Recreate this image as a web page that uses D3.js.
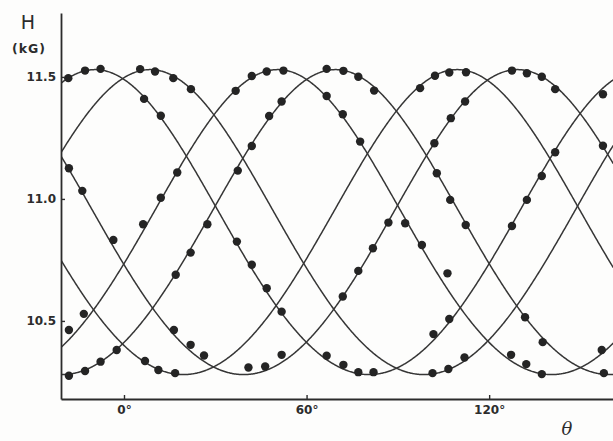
<!DOCTYPE html>
<html>
<head>
<meta charset="utf-8">
<script src="https://cdn.jsdelivr.net/npm/d3@7/dist/d3.min.js"></script>
<style>
  html, body { margin: 0; padding: 0; background: #fdfdfc; }
  svg { display: block; }
</style>
</head>
<body>
<svg id="chart" width="613" height="441"></svg>
<script>
// Axis ticks
const thetaTicks = [0, 60, 120];
const fieldTicks = [10.5, 11.0, 11.5];

// Fitted resonance lines: angle of maximum field (deg) for each site
const peakAngles = [-9.5, 8.6, 50.5, 69.5, 109.5, 129.3];
const fieldMax = 11.53;   // kG, field along the principal axis
const fieldMin = 10.28;   // kG, field perpendicular to it

// Measured resonance fields, [theta (deg), H (kG)]
const siteA = [[-18.3,11.495],[-12.8,11.526],[-7.7,11.533],[6.6,11.410],[12.1,11.341],
  [37.1,10.825],[42.0,10.730],[46.9,10.634],[51.8,10.538],[66.6,10.357],[72.1,10.320],
  [77.0,10.290],[82.0,10.290],[101.7,10.446],[106.9,10.508],[127.5,10.889],[132.4,10.996],
  [137.3,11.094],[141.7,11.191],[157.4,11.429]];
const siteB = [[5.3,11.532],[10.2,11.522],[16.2,11.495],[22.0,11.450],
  [101.4,10.286],[106.6,10.303],[111.9,10.350]];
const siteC = [[-18.1,10.463],[-13.2,10.529],[6.3,10.896],[12.1,11.005],[17.5,11.108],
  [36.7,11.443],[42.0,11.504],[46.9,11.522],[52.4,11.526],[66.6,11.422],[71.9,11.347],
  [77.6,11.235],[92.4,10.900],[97.9,10.811],[106.3,10.695],[127.2,10.361],[132.2,10.323],
  [137.3,10.282],[157.0,10.381]];
const siteD = [[-18.1,10.275],[-12.8,10.295],[-7.7,10.333],[-2.4,10.381],[17.0,10.689],
  [21.9,10.780],[27.4,10.896],[37.4,11.116],[42.0,11.217],[47.7,11.340],[51.8,11.399],
  [66.6,11.533],[72.1,11.525],[77.0,11.501],[82.2,11.444],[102.8,11.105],[107.2,10.996],
  [112.3,10.893],[131.8,10.515],[137.6,10.413],[157.7,10.286]];
const siteE = [[6.9,10.336],[11.3,10.299],[16.8,10.286],[97.3,11.454],[102.2,11.505],
  [106.9,11.518],[112.4,11.519]];
const siteF = [[-18.1,11.126],[-13.7,11.033],[-3.5,10.832],[16.4,10.463],[21.9,10.402],
  [26.3,10.358],[40.9,10.309],[46.4,10.313],[51.8,10.361],[71.9,10.600],[77.0,10.705],
  [81.8,10.798],[86.9,10.903],[102.0,11.228],[107.4,11.331],[112.1,11.399],[127.5,11.526],
  [132.4,11.515],[137.3,11.501],[141.7,11.450],[157.4,11.218]];

const sites = [siteA, siteB, siteC, siteD, siteE, siteF];

const ink = "#2c2c2c";
const svg = d3.select("#chart");

const plotLeft = 61, plotRight = 613, plotTop = 13, plotBottom = 399;
const x = d3.scaleLinear().domain([-20.7, 160.7]).range([plotLeft, plotRight]);
const y = d3.scaleLinear().domain([10.18, 11.762]).range([plotBottom, plotTop]);

// Anisotropic resonance field: H = Hmax / sqrt(cos^2 + r sin^2)
const ratio = (fieldMax / fieldMin) ** 2;
function fitField(theta, peak) {
  const phi = (theta - peak) * Math.PI / 180;
  const c = Math.cos(phi), s = Math.sin(phi);
  return fieldMax / Math.sqrt(c * c + ratio * s * s);
}

svg.append("defs").append("clipPath").attr("id", "plot")
  .append("rect").attr("x", plotLeft + 1).attr("y", plotTop)
  .attr("width", plotRight - plotLeft).attr("height", plotBottom - plotTop);

const thetaGrid = d3.range(x.domain()[0], x.domain()[1] + 0.25, 0.25);
const line = d3.line().x(d => x(d[0])).y(d => y(d[1]));

svg.append("g").attr("clip-path", "url(#plot)")
  .selectAll("path").data(peakAngles).join("path")
  .attr("d", p => line(thetaGrid.map(t => [t, fitField(t, p)])))
  .attr("fill", "none").attr("stroke", "#363636").attr("stroke-width", 1.5);

svg.append("g").selectAll("g").data(sites).join("g")
  .selectAll("circle").data(d => d).join("circle")
  .attr("cx", d => x(d[0])).attr("cy", d => y(d[1])).attr("r", 4.2)
  .attr("fill", "#242424");

// Axes
const fontFamily = "'DejaVu Sans', 'Liberation Sans', sans-serif";
const xAxis = svg.append("g").attr("transform", `translate(0,${plotBottom})`)
  .call(d3.axisBottom(x).tickValues(thetaTicks).tickSize(-4).tickSizeOuter(0)
    .tickPadding(6).tickFormat(d => d + "°"));
const yAxis = svg.append("g").attr("transform", `translate(${plotLeft},0)`)
  .call(d3.axisLeft(y).tickValues(fieldTicks).tickSize(-4).tickSizeOuter(0)
    .tickPadding(5).tickFormat(d3.format(".1f")));

[xAxis, yAxis].forEach(g => {
  g.select(".domain").attr("stroke", ink).attr("stroke-width", 1.8);
  g.selectAll(".tick line").attr("stroke", ink).attr("stroke-width", 1.4);
  g.selectAll(".tick text").attr("fill", ink).attr("font-family", fontFamily)
    .attr("font-weight", "bold").attr("font-size", 12);
});

// Axis titles
svg.append("text").attr("x", 28).attr("y", 29).attr("text-anchor", "middle")
  .attr("font-family", fontFamily).attr("font-size", 19).attr("fill", ink).text("H");
svg.append("text").attr("x", 29).attr("y", 53).attr("text-anchor", "middle")
  .attr("font-family", fontFamily).attr("font-size", 12.5).attr("font-weight", "bold")
  .attr("letter-spacing", 1).attr("fill", ink).text("(kG)");
svg.append("text").attr("x", 567).attr("y", 435).attr("text-anchor", "middle")
  .attr("font-family", "'DejaVu Serif', 'Liberation Serif', serif").attr("font-style", "italic")
  .attr("font-size", 18).attr("fill", ink).text("θ");
</script>
</body>
</html>
